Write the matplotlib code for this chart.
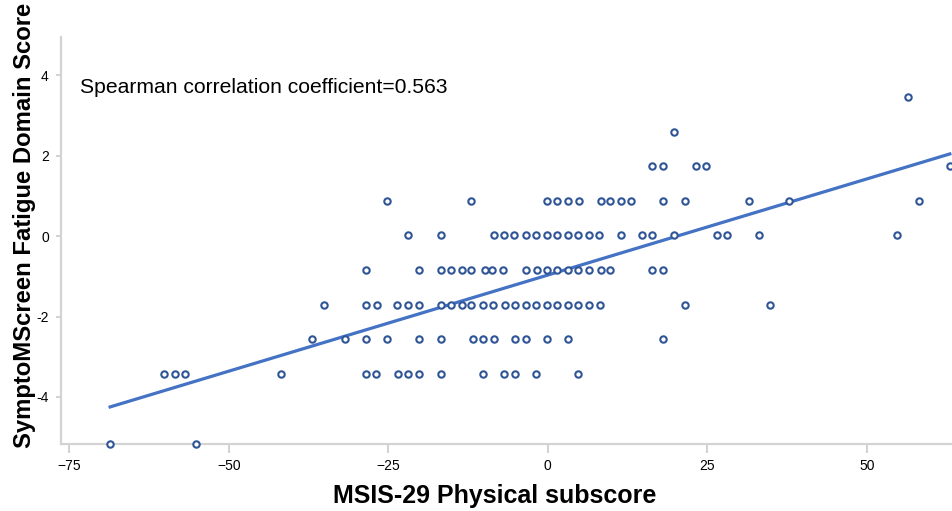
import numpy as np
import matplotlib
matplotlib.use("Agg")
import matplotlib.pyplot as plt

plt.rcParams['font.family'] = ['Liberation Sans', 'DejaVu Sans']

# x values (MSIS-29 physical subscore) grouped by fatigue score level
y_levels = [3.47, 2.60, 1.74, 0.88, 0.02, -0.84, -1.71, -2.57, -3.43, -5.16]
x_by_level = [
    [56.4],
    [19.8],
    [16.4, 18.1, 23.2, 24.8, 63.0],
    [-25.2, -12.0, -0.2, 1.5, 3.2, 4.9, 8.3, 9.8, 11.4, 13.1, 18.1, 21.5,
     31.5, 37.8, 58.1],
    [-21.9, -16.8, -8.5, -6.9, -5.3, -3.5, -1.8, -0.2, 1.4, 3.2, 4.8, 6.4,
     8.0, 11.4, 14.8, 16.4, 19.8, 26.5, 28.1, 33.1, 54.8],
    [-28.5, -20.2, -16.8, -15.2, -13.5, -12.0, -9.9, -8.7, -7.1, -3.4, -1.7,
     -0.2, 1.4, 3.2, 4.8, 6.4, 8.3, 9.8, 16.4, 18.1],
    [-35.1, -28.5, -26.8, -23.7, -21.9, -20.2, -16.7, -15.2, -13.4, -12.0,
     -10.1, -8.6, -6.7, -5.2, -3.5, -1.9, -0.2, 1.4, 3.2, 4.8, 6.4, 8.2,
     21.5, 34.8],
    [-36.9, -31.8, -28.5, -25.2, -20.2, -16.8, -11.8, -10.1, -8.5, -5.2,
     -3.5, -0.2, 3.2, 18.1],
    [-60.1, -58.4, -56.8, -41.8, -28.5, -26.9, -23.5, -21.9, -20.2, -16.8,
     -10.2, -6.9, -5.2, -1.8, 4.8],
    [-68.6, -55.1],
]

# fitted line
fit_slope = 0.0478
fit_intercept = -0.969

xticks = [-75, -50, -25, 0, 25, 50]
yticks = [-4, -2, 0, 2, 4]
ytick_labels = ['-4', '-2', '0', '2', '4']

xs = []
ys = []
for yv, row in zip(y_levels, x_by_level):
    for xv in row:
        xs.append(xv)
        ys.append(yv)
xs = np.array(xs)
ys = np.array(ys)

fig = plt.figure(figsize=(9.53, 5.11), dpi=100)
ax = fig.add_axes([61/953, 1 - 444/511, 1 - 61/953, (444 - 37)/511])

fx = np.array([xs.min(), xs.max()])
ax.plot(fx, fit_intercept + fit_slope*fx, color='#4472c4', lw=2.3, zorder=2)
ax.plot(xs, ys, 'o', ms=4.6, mfc='white', mec='#2f5597', mew=1.5,
        zorder=3, clip_on=False)

ax.set_xlim(-76.3, 63.5)
ax.set_ylim(-5.17, 4.95)
ax.set_xticks(xticks)
ax.set_yticks(yticks)
ax.set_yticklabels(ytick_labels)

for s in ['top', 'right']:
    ax.spines[s].set_visible(False)
for s in ['left', 'bottom']:
    ax.spines[s].set_color('#d3d3d3')
    ax.spines[s].set_linewidth(1.6)
ax.tick_params(axis='x', length=6.5, width=1.5, color='#d3d3d3',
               labelsize=10, pad=4)
ax.tick_params(axis='y', length=3.8, width=1.5, color='#d3d3d3',
               labelsize=10, pad=5)

ax.text((80 - 61)/(953 - 61), (444 - 87)/(444 - 37),
        'Spearman correlation coefficient=0.563', transform=ax.transAxes,
        fontsize=15.2, ha='left', va='center')

fig.text(495/953, 1 - 496/511, 'MSIS-29 Physical subscore', fontsize=18,
         fontweight='bold', ha='center', va='center')
fig.text(25/953, 1 - 225/511, 'SymptoMScreen Fatigue Domain Score',
         fontsize=17.2, fontweight='bold', rotation=90, ha='center', va='center')

fig.savefig('out.png', dpi=100)
